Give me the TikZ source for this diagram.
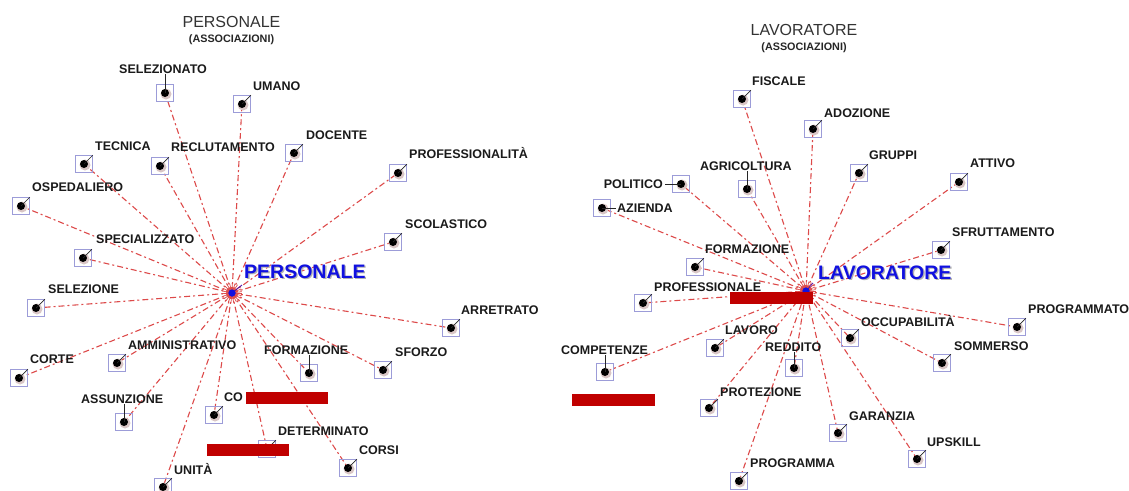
\documentclass[tikz,border=0pt]{standalone}
\usepackage{fontspec}
\setmainfont{Liberation Sans}
\pgfdeclarelayer{bg}
\pgfsetlayers{bg,main}
\definecolor{edgec}{HTML}{DD4A4A}
\definecolor{boxc}{HTML}{9C9CD8}
\definecolor{labc}{HTML}{1A1A1A}
\definecolor{hubc}{HTML}{1010E0}
\definecolor{barc}{HTML}{C00000}
\definecolor{haloc}{HTML}{D9C6C6}
\begin{document}
\begin{tikzpicture}[x=1pt,y=-1pt,
 mk/.style={draw=boxc, line width=0.7pt, minimum size=17pt, inner sep=0pt},
 lbl/.style={font=\bfseries\fontsize{12.5}{14}\selectfont, text=labc, inner sep=0pt, anchor=west, text height=9pt, text depth=0pt},
 edge/.style={draw=edgec, line width=1.1pt, dash pattern=on 6pt off 3pt on 2pt off 3pt},
 leader/.style={draw=black!85, line width=0.7pt},
 bar/.style={fill=barc, draw=none},
 hubdot/.style={circle, fill=hubc, inner sep=0pt, minimum size=7pt},
 hublbl/.style={font=\bfseries\fontsize{19.5}{21}\selectfont, inner sep=0pt, anchor=west, text height=14pt, text depth=0pt},
 ttl/.style={font=\fontsize{16}{18}\selectfont, text=black!80, inner sep=0pt},
 sub/.style={font=\bfseries\fontsize{10.8}{12}\selectfont, text=black!85, inner sep=0pt}
]
\begin{pgfonlayer}{bg}
\fill[white] (0,0) rectangle (1129,490);
\end{pgfonlayer}
\useasboundingbox (0,0) rectangle (1129,490);

% titles
\node[ttl] (t1) at (231.5,22) {PERSONALE};
\node[sub] (s1) at (231.5,40) {(ASSOCIAZIONI)};
\node[ttl] (t2) at (804,30) {LAVORATORE};
\node[sub] (s2) at (804,48) {(ASSOCIAZIONI)};

% hubs
\node[hubdot] (hubP) at (232,293) {};
\node[hubdot] (hubL) at (806,291) {};

% ---------- left markers and labels
\node[mk] (mSelezionato) at (165,93) {};   \node[lbl] (lSelezionato) at (119,69) {SELEZIONATO};
\node[mk] (mUmano) at (242,104) {};        \node[lbl] (lUmano) at (253,86) {UMANO};
\node[mk] (mTecnica) at (84,164) {};       \node[lbl] (lTecnica) at (95,146) {TECNICA};
\node[mk] (mReclutamento) at (160,166) {}; \node[lbl] (lReclutamento) at (171,147) {RECLUTAMENTO};
\node[mk] (mDocente) at (294,153) {};      \node[lbl] (lDocente) at (306,135) {DOCENTE};
\node[mk] (mOspedaliero) at (21,206) {};   \node[lbl] (lOspedaliero) at (32,187) {OSPEDALIERO};
\node[mk] (mSpecializzato) at (83,258) {}; \node[lbl] (lSpecializzato) at (96,239) {SPECIALIZZATO};
\node[mk] (mProfessionalita) at (398,173) {}; \node[lbl] (lProfessionalita) at (409,154) {PROFESSIONALITÀ};
\node[mk] (mScolastico) at (393,242) {};   \node[lbl] (lScolastico) at (405,224) {SCOLASTICO};
\node[mk] (mSelezione) at (36,308) {};     \node[lbl] (lSelezione) at (48,289) {SELEZIONE};
\node[mk] (mArretrato) at (451,328) {};    \node[lbl] (lArretrato) at (461,310) {ARRETRATO};
\node[mk] (mCorte) at (19,378) {};         \node[lbl] (lCorte) at (30,359) {CORTE};
\node[mk] (mAmministrativo) at (117,363) {}; \node[lbl] (lAmministrativo) at (128,345) {AMMINISTRATIVO};
\node[mk] (mFormazioneP) at (309,373) {};  \node[lbl] (lFormazioneP) at (264,350) {FORMAZIONE};
\node[mk] (mSforzo) at (383,370) {};       \node[lbl] (lSforzo) at (395,352) {SFORZO};
\node[mk] (mAssunzione) at (124,422) {};   \node[lbl] (lAssunzione) at (81,399) {ASSUNZIONE};
\node[mk] (mCo) at (214,415) {};           \node[lbl] (lCo) at (224,397) {CO};
\node[mk] (mDeterminato) at (267,449) {};  \node[lbl] (lDeterminato) at (278,431) {DETERMINATO};
\node[mk] (mCorsi) at (348,468) {};        \node[lbl] (lCorsi) at (359,450) {CORSI};
\node[mk] (mUnita) at (163,487) {};        \node[lbl] (lUnita) at (174,470) {UNITÀ};

% ---------- right markers and labels
\node[mk] (mFiscale) at (742,99) {};       \node[lbl] (lFiscale) at (752,81) {FISCALE};
\node[mk] (mAdozione) at (813,129) {};     \node[lbl] (lAdozione) at (824,113) {ADOZIONE};
\node[mk] (mPolitico) at (681,184) {};     \node[lbl, anchor=east] (lPolitico) at (663,184) {POLITICO};
\node[mk] (mAgricoltura) at (747,189) {};  \node[lbl] (lAgricoltura) at (700,166) {AGRICOLTURA};
\node[mk] (mAzienda) at (602,208) {};      \node[lbl] (lAzienda) at (617,208) {AZIENDA};
\node[mk] (mGruppi) at (859,173) {};       \node[lbl] (lGruppi) at (869,155) {GRUPPI};
\node[mk] (mAttivo) at (959,182) {};       \node[lbl] (lAttivo) at (970,163) {ATTIVO};
\node[mk] (mSfruttamento) at (941,250) {}; \node[lbl] (lSfruttamento) at (952,232) {SFRUTTAMENTO};
\node[mk] (mFormazioneL) at (695,267) {};  \node[lbl] (lFormazioneL) at (705,249) {FORMAZIONE};
\node[mk] (mProfessionale) at (643,303) {}; \node[lbl] (lProfessionale) at (654,287) {PROFESSIONALE};
\node[mk] (mProgrammato) at (1017,327) {}; \node[lbl] (lProgrammato) at (1028,309) {PROGRAMMATO};
\node[mk] (mOccupabilita) at (850,338) {}; \node[lbl] (lOccupabilita) at (861,322) {OCCUPABILITÀ};
\node[mk] (mSommerso) at (942,363) {};     \node[lbl] (lSommerso) at (954,346) {SOMMERSO};
\node[mk] (mLavoro) at (715,348) {};       \node[lbl] (lLavoro) at (725,330) {LAVORO};
\node[mk] (mReddito) at (794,368) {};      \node[lbl] (lReddito) at (765,347) {REDDITO};
\node[mk] (mCompetenze) at (605,372) {};   \node[lbl] (lCompetenze) at (561,350) {COMPETENZE};
\node[mk] (mProtezione) at (709,408) {};   \node[lbl] (lProtezione) at (720,392) {PROTEZIONE};
\node[mk] (mGaranzia) at (838,433) {};     \node[lbl] (lGaranzia) at (849,416) {GARANZIA};
\node[mk] (mUpskill) at (917,459) {};      \node[lbl] (lUpskill) at (927,442) {UPSKILL};
\node[mk] (mProgramma) at (739,481) {};    \node[lbl] (lProgramma) at (750,463) {PROGRAMMA};

% ---------- edges (behind)
\begin{pgfonlayer}{bg}
\foreach \n in {Selezionato,Umano,Tecnica,Reclutamento,Docente,Ospedaliero,Specializzato,Professionalita,Scolastico,Selezione,Arretrato,Corte,Amministrativo,FormazioneP,Sforzo,Assunzione,Co,Determinato,Corsi,Unita}
  \draw[edge] (hubP.center) -- (m\n.center);
\foreach \n in {Fiscale,Adozione,Politico,Agricoltura,Azienda,Gruppi,Attivo,Sfruttamento,FormazioneL,Professionale,Programmato,Occupabilita,Sommerso,Lavoro,Reddito,Competenze,Protezione,Garanzia,Upskill,Programma}
  \draw[edge] (hubL.center) -- (m\n.center);
\foreach \a [count=\i] in {0,8,...,352} {
  \draw[edgec, line width=0.7pt] (hubP.center) -- ++(\a:{6+4*mod(\i,2)});
  \draw[edgec, line width=0.7pt] (hubL.center) -- ++(\a:{6+4*mod(\i,2)});
}
\end{pgfonlayer}

% ---------- dots with halo
\foreach \n in {Selezionato,Umano,Tecnica,Reclutamento,Docente,Ospedaliero,Specializzato,Professionalita,Scolastico,Selezione,Arretrato,Corte,Amministrativo,FormazioneP,Sforzo,Assunzione,Co,Determinato,Corsi,Unita,Fiscale,Adozione,Politico,Agricoltura,Azienda,Gruppi,Attivo,Sfruttamento,FormazioneL,Professionale,Programmato,Occupabilita,Sommerso,Lavoro,Reddito,Competenze,Protezione,Garanzia,Upskill,Programma} {
  \fill[haloc] ([shift={(1,1)}]m\n.center) circle (5.5pt);
  \fill[black] (m\n.center) circle (4pt);
}

% ---------- diagonal leaders
\foreach \n in {Umano,Tecnica,Reclutamento,Docente,Ospedaliero,Specializzato,Professionalita,Scolastico,Selezione,Arretrato,Corte,Amministrativo,Sforzo,Co,Determinato,Corsi,Unita,Fiscale,Adozione,Gruppi,Attivo,Sfruttamento,FormazioneL,Professionale,Programmato,Occupabilita,Sommerso,Lavoro,Protezione,Garanzia,Upskill,Programma}
  \draw[leader] (m\n.center) -- (m\n.north east);
% vertical leaders
\foreach \n in {Selezionato,FormazioneP,Assunzione,Agricoltura,Reddito,Competenze}
  \draw[leader] (m\n.center) -- (m\n.center |- l\n.south);
% horizontal leaders
\draw[leader] (mPolitico.center) -- ([xshift=2pt]lPolitico.east);
\draw[leader] (mAzienda.center) -- ([xshift=-1pt]lAzienda.west);

% hub leaders and labels
\draw[hubc!75!red, line width=0.8pt] (hubP.center) -- ++(10,-8);
\draw[hubc!75!red, line width=0.8pt] (hubL.center) -- ++(7,-8);
\node[hubdot] at (hubP) {};
\node[hubdot] at (hubL) {};
\node[hublbl, text=black!30] (hubPsh) at (245.3,272.3) {PERSONALE};
\node[hublbl, text=hubc] (hubPlab) at (244,271) {PERSONALE};
\node[hublbl, text=black!30] (hubLsh) at (819.3,273.3) {LAVORATORE};
\node[hublbl, text=hubc] (hubLlab) at (818,272) {LAVORATORE};

% ---------- red bars (on top)
\fill[bar] (246,392) rectangle (328,404);
\fill[bar] (207,444) rectangle (289,456);
\fill[bar] (730,292) rectangle (813,304);
\fill[bar] (572,394) rectangle (655,406);
\end{tikzpicture}
\end{document}
